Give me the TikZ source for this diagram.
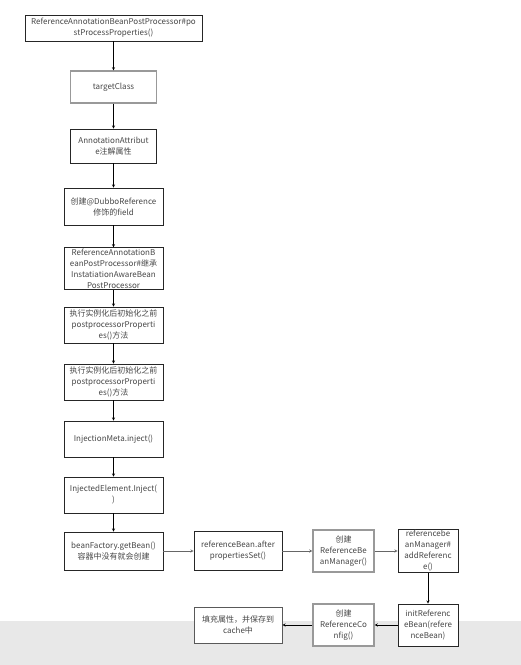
\documentclass[tikz,border=0pt]{standalone}
\usepackage{fontspec}
\setmainfont{Noto Sans CJK SC}
\usetikzlibrary{arrows}

\begin{document}
\begin{tikzpicture}[x=1pt, y=1pt, node distance=57pt, auto, >=stealth,
    box/.style={rectangle, draw=black!85, fill=white, line width=0.9pt, align=center, inner sep=1pt, font=\fontsize{8}{11}\selectfont, text=black!72},
    graybox/.style={box, draw=black!40, line width=1.3pt}]
    % Background
    \useasboundingbox (0,0) rectangle (521,-665);
    \fill [black!9] (0,-621) rectangle (521,-665);

    % Define nodes
    \node [box, minimum width=177pt, minimum height=26pt] (post) at (113.5,-28) {ReferenceAnnotationBeanPostProcessor\#po\\stProcessProperties()};
    \node [graybox, minimum width=86pt, minimum height=32pt, below of=post, node distance=59pt] (target) {targetClass};
    \node [box, minimum width=86pt, minimum height=34pt, below of=target, node distance=59pt] (attr) {AnnotationAttribut\\e注解属性};
    \node [box, minimum width=99pt, minimum height=37pt, below of=attr, node distance=60.5pt] (field) {创建@DubboReference\\修饰的field};
    \node [box, minimum width=99pt, minimum height=37pt, below of=field, node distance=62pt] (aware) {ReferenceAnnotationB\\eanPostProcessor\#继承\\InstatiationAwareBean\\PostProcessor};
    \node [box, minimum width=99pt, minimum height=36pt, below of=aware, node distance=56.5pt] (before) {执行实例化后初始化之前\\postprocessorProperti\\es()方法};
    \node [box, minimum width=99pt, minimum height=36pt, below of=before] (beforeb) {执行实例化后初始化之前\\postprocessorProperti\\es()方法};
    \node [box, minimum width=99pt, minimum height=36pt, below of=beforeb] (meta) {InjectionMeta.inject()};
    \node [box, minimum width=99pt, minimum height=36pt, below of=meta, node distance=56pt] (element) {InjectedElement.Inject(\\)};
    \node [box, minimum width=99pt, minimum height=38pt, below of=element, node distance=56pt] (factory) {beanFactory.getBean()\\容器中没有就会创建};
    \node [box, minimum width=88pt, minimum height=39pt, right of=factory, node distance=124.5pt] (props) {referenceBean.after\\propertiesSet()};
    \node [graybox, minimum width=61pt, minimum height=42pt, right of=props, node distance=105.5pt] (manager) {创建\\ReferenceBe\\anManager()};
    \node [box, minimum width=60pt, minimum height=43pt, right of=manager, node distance=84.5pt] (addref) {referencebe\\anManager\#\\addReferenc\\e()};
    \node [box, minimum width=60pt, minimum height=42pt, below of=addref, node distance=74pt] (init) {initReferenc\\eBean(refere\\nceBean)};
    \node [graybox, minimum width=61pt, minimum height=42pt, left of=init, node distance=84.5pt] (config) {创建\\ReferenceCo\\nfig()};
    \node [box, draw=black!65, minimum width=88pt, minimum height=36pt, left of=config, node distance=105.5pt] (cache) {填充属性，并保存到\\cache中};

    % Draw edges
    \draw [->] (post) -- (target);
    \draw [->] (target) -- (attr);
    \draw [->] (attr) -- (field);
    \draw [->] (field) -- (aware);
    \draw [->] (aware) -- (before);
    \draw [->] (before) -- (beforeb);
    \draw [->] (beforeb) -- (meta);
    \draw [->] (meta) -- (element);
    \draw [->] (element) -- (factory);
    \draw [->, black!60] (factory) -- (props);
    \draw [->, black!60] (props) -- (manager);
    \draw [->, black!60] (manager) -- (addref);
    \draw [->] (addref) -- (init);
    \draw [->] (init) -- (config);
    \draw [->] (config) -- (cache);
\end{tikzpicture}
\end{document}
